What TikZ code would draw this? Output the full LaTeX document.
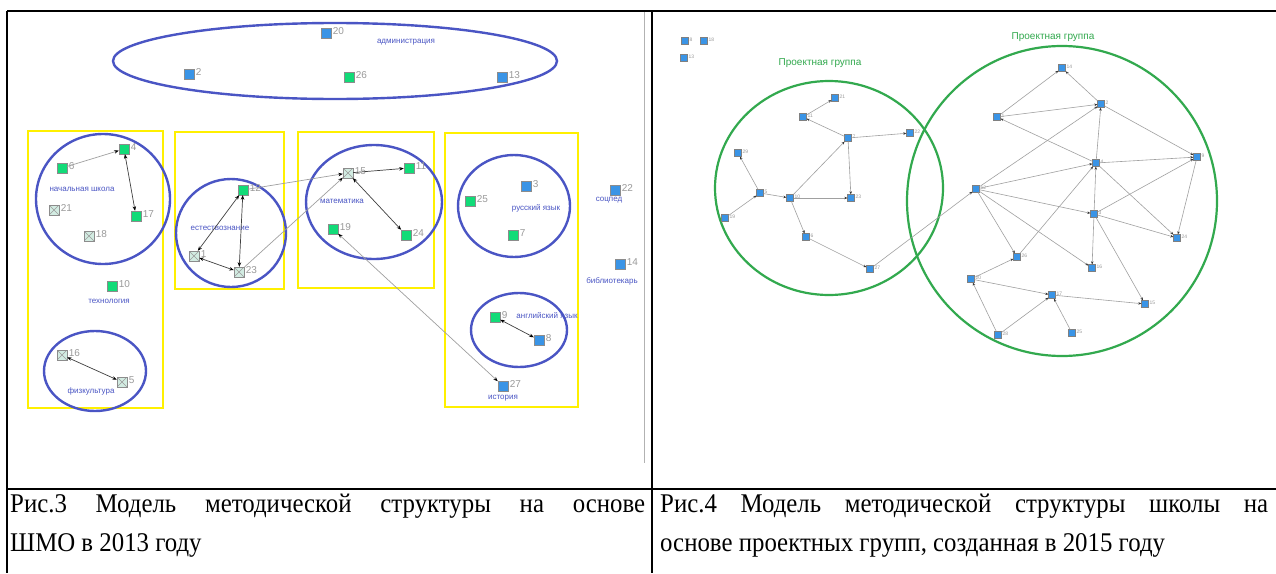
\documentclass[tikz,border=0pt]{standalone}
\usepackage{fontspec}
\setmainfont{Liberation Serif}
\newfontfamily\captfont[FakeStretch=0.92]{Liberation Serif}
\newfontfamily\netfont{Liberation Sans}
\usetikzlibrary{arrows.meta}

\definecolor{grpblue}{HTML}{4A55C4}
\definecolor{grpyellow}{HTML}{FFF000}
\definecolor{prjgreen}{HTML}{32A94E}
\definecolor{ndblue}{HTML}{3A94E6}
\definecolor{ndgreen}{HTML}{12DB78}
\definecolor{ndcross}{HTML}{D2ECE2}
\definecolor{lblgray}{HTML}{9A9A9A}
\definecolor{edgegray}{HTML}{A0A0A0}

\tikzset{
  nd/.style={draw=black!45, line width=0.4pt, minimum size=10pt, inner sep=0pt,
    label={[lblgray, font=\netfont\fontsize{10}{10}\selectfont, inner sep=1.5pt, yshift=1.5pt]right:#1}},
  gnode/.style={nd=#1, fill=ndgreen},
  bnode/.style={nd=#1, fill=ndblue},
  xnode/.style={nd=#1, fill=ndcross, path picture={
    \draw[lblgray, line width=0.5pt] (path picture bounding box.south west) -- (path picture bounding box.north east)
      (path picture bounding box.north west) -- (path picture bounding box.south east);}},
  rnode/.style={draw=black!50, line width=0.3pt, fill=ndblue, minimum size=7pt, inner sep=0pt,
    label={[lblgray, font=\netfont\fontsize{5}{5}\selectfont, inner sep=0.8pt, yshift=0.8pt]right:#1}},
  grpcirc/.style={draw=grpblue, line width=2.4pt},
  grpbox/.style={draw=grpyellow, line width=2.8pt},
  prjcirc/.style={draw=prjgreen, line width=2.2pt},
  grplbl/.style={text=grpblue, font=\netfont\fontsize{8}{8}\selectfont, inner sep=0pt},
  prjlbl/.style={text=prjgreen, font=\netfont\fontsize{10}{10}\selectfont, inner sep=0pt},
  ledge/.style={draw=edgegray, line width=0.7pt},
  ldark/.style={draw=black!75, line width=0.7pt},
  redge/.style={draw=edgegray, line width=0.6pt, -{Stealth[length=3pt,width=2.5pt,black!80]}},
  capt/.style={font=\captfont\fontsize{27}{39}\selectfont, align=justify, inner sep=0pt, anchor=north west},
  tline/.style={draw=black, line width=2.2pt}
}

\begin{document}
\begin{tikzpicture}[x=1pt, y=-1pt, >={Stealth[length=4.5pt,width=3.5pt,black]}]
\useasboundingbox (0,0) rectangle (1276,573);
\fill[white] (0,0) rectangle (1276,573);

% table
\draw[tline] (7,11) -- (1276,11);
\draw[tline] (7,489) -- (1276,489);
\draw[tline] (7,11) -- (7,573);
\draw[draw=black, line width=1.6pt] (652,11) -- (652,573);
\draw[draw=black!30, line width=0.6pt] (644,12) -- (644,463);

% --- Рис.3 ---
% groups
\draw[grpcirc] (335,61) ellipse [x radius=222, y radius=38];
\draw[grpbox] (28,131) rectangle (163,408);
\draw[grpbox] (175,132) rectangle (284,289);
\draw[grpbox] (298,132) rectangle (434,288);
\draw[grpbox] (445,133) rectangle (578,407);
\draw[grpcirc] (103,199) ellipse [x radius=67, y radius=65];
\draw[grpcirc] (95,371) ellipse [x radius=51, y radius=40];
\draw[grpcirc] (231,233) ellipse [x radius=55, y radius=54];
\draw[grpcirc] (374,202) ellipse [x radius=68, y radius=57];
\draw[grpcirc] (514,206) ellipse [x radius=56, y radius=51];
\draw[grpcirc] (519,330) ellipse [x radius=48, y radius=37];

% group names
\node[grplbl] (tadm) at (406,42) {администрация};
\node[grplbl] (tnach) at (82,189) {начальная школа};
\node[grplbl] (ttech) at (109,301) {технология};
\node[grplbl] (tfiz) at (91,391) {физкультура};
\node[grplbl] (test) at (220,228) {естествознание};
\node[grplbl] (tmat) at (342,201) {математика};
\node[grplbl] (trus) at (536,208) {русский язык};
\node[grplbl] (teng) at (547,316) {английский язык};
\node[grplbl] (tist) at (503,398) {история};
\node[grplbl] (tsoc) at (609,200) {соцпед};
\node[grplbl] (tbib) at (612,281) {библиотекарь};

% teachers
\foreach \n/\x/\y in {20/326/33, 2/189/74, 13/502/77, 3/526/186, 22/615/190, 14/620/264, 8/539/340, 27/503/386}
  \node[bnode=\n] (a\n) at (\x,\y) {};
\foreach \n/\x/\y in {26/349/77, 4/124/149, 6/62/168, 17/136/216, 10/112/286, 12/243/190, 11/409/168,
                      19/333/229, 24/406/235, 25/470/201, 7/513/235, 9/495/317}
  \node[gnode=\n] (a\n) at (\x,\y) {};
\foreach \n/\x/\y in {21/54/210, 18/89/236, 16/62/355, 5/122/382, 1/194/256, 23/239/272, 15/348/173}
  \node[xnode=\n] (a\n) at (\x,\y) {};

% links
\foreach \s/\t in {6/4, 12/15, 23/15}
  \draw[ledge, ->] (a\s) -- (a\t);
\draw[ledge, <->] (a19) -- (a27);
\draw[ldark, ->] (a15) -- (a11);
\foreach \s/\t in {4/17, 12/1, 12/23, 1/23, 15/24, 9/8, 16/5}
  \draw[ldark, <->] (a\s) -- (a\t);

% --- Рис.4 ---
\draw[prjcirc] (829,188) ellipse [x radius=114, y radius=107];
\draw[prjcirc] (1062,201) ellipse [x radius=155, y radius=155];
\node[prjlbl] (tprj1) at (820,63) {Проектная группа};
\node[prjlbl] (tprj2) at (1053,37) {Проектная группа};

\foreach \n/\x/\y in {8/685/41, 18/704/41, 13/684/58, 21/835/98, 11/803/117, 7/848/138, 22/910/133,
                      29/738/153, 5/760/193, 19/725/218, 10/790/198, 23/851/198, 6/806/237, 27/870/269,
                      14/1062/68, 2/1101/104, 1/997/117, 9/1197/157, 4/1096/163, 12/976/189, 3/1094/214,
                      24/1177/238, 26/1017/257, 16/1092/268, 20/971/279, 17/1052/295, 15/1145/304,
                      28/998/335, 25/1072/333}
  \node[rnode=\n] (b\n) at (\x,\y) {};

\foreach \s/\t in {11/21, 7/11, 7/22, 5/29, 19/5, 5/10, 10/23, 10/7, 7/23, 10/6, 6/27, 27/12,
                   1/14, 2/14, 1/2, 4/1, 2/9, 4/2, 12/2, 12/4, 12/3, 12/26, 12/16, 4/9, 3/4, 4/24,
                   26/4, 3/9, 9/24, 3/24, 3/16, 3/15, 20/26, 20/17, 28/20, 28/17, 17/15, 25/17}
  \draw[redge] (b\s) -- (b\t);

% captions
\node[capt, text width=635pt] (cap3) at (10,494) {Рис.3 Модель методической структуры на основе\linebreak ШМО в 2013 году};
\node[capt, text width=608pt] (cap4) at (660,494) {Рис.4 Модель методической структуры школы на\linebreak основе проектных групп, созданная в 2015 году};

\end{tikzpicture}
\end{document}
